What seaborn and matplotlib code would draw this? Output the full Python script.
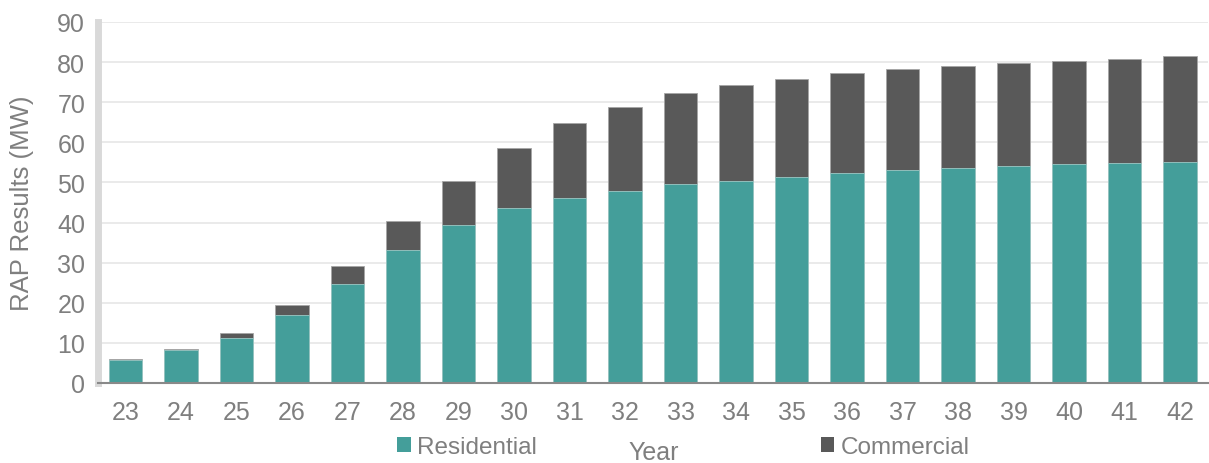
import matplotlib
matplotlib.use("Agg")
import matplotlib.pyplot as plt
import seaborn as sns
import pandas as pd
from matplotlib.patches import Patch

years = ["23", "24", "25", "26", "27", "28", "29", "30", "31", "32",
         "33", "34", "35", "36", "37", "38", "39", "40", "41", "42"]
residential = [5.8, 8.2, 11.2, 16.9, 24.8, 33.1, 39.4, 43.6, 46.2, 47.8,
               49.6, 50.4, 51.4, 52.3, 53.2, 53.6, 54.1, 54.5, 54.8, 55.1]
commercial = [0.1, 0.4, 1.3, 2.5, 4.4, 7.2, 11.0, 14.9, 18.5, 21.1,
              22.6, 23.8, 24.4, 24.9, 25.2, 25.5, 25.7, 25.9, 26.0, 26.3]
yticks = [0, 10, 20, 30, 40, 50, 60, 70, 80, 90]

TEAL = "#449e9a"
GRAY = "#595959"
TXT = "#7f7f7f"

df = pd.DataFrame({"Year": years, "Residential": residential, "Commercial": commercial})
df["Total"] = df["Residential"] + df["Commercial"]

sns.set_theme(style="white")
plt.rcParams["font.family"] = ["Liberation Sans", "DejaVu Sans"]

fig = plt.figure(figsize=(12.09, 4.64), dpi=100)
ax = fig.add_axes([97.75 / 1209, 80 / 464, 1110 / 1209, 361 / 464])

sns.barplot(data=df, x="Year", y="Total", color=GRAY, width=0.6, saturation=1,
            edgecolor="#a6a6a6", linewidth=0.6, ax=ax, zorder=3)
sns.barplot(data=df, x="Year", y="Residential", color=TEAL, width=0.6, saturation=1,
            edgecolor="#9cc9c6", linewidth=0.6, ax=ax, zorder=4)

ax.set_xlim(-0.5, len(years) - 0.5)
ax.set_ylim(0, 90)
ax.set_yticks(yticks)
ax.yaxis.grid(True, color="#e8e8e8", lw=1.3, zorder=0)
ax.xaxis.grid(False)
ax.set_axisbelow(True)

ax.tick_params(axis="y", length=0, pad=9, labelsize=18, labelcolor=TXT)
ax.tick_params(axis="x", which="major", length=0, pad=12, labelsize=18, labelcolor=TXT)
ax.set_xticks([i - 0.5 for i in range(len(years) + 1)], minor=True)
ax.tick_params(axis="x", which="minor", length=6, width=1.5, color="#898989", direction="out")

for s in ["top", "right"]:
    ax.spines[s].set_visible(False)
ax.spines["left"].set_color("#d9d9d9")
ax.spines["left"].set_linewidth(5)
ax.spines["bottom"].set_color("#898989")
ax.spines["bottom"].set_linewidth(1.5)
ax.spines["bottom"].set_zorder(6)

ax.set_xlabel("Year", fontsize=18, color=TXT)
ax.xaxis.set_label_coords(0.501, -0.158)
ax.set_ylabel("RAP Results (MW)", fontsize=18.5, color=TXT)
ax.yaxis.set_label_coords(-0.057, 0.5)

handles = [Patch(facecolor=TEAL, edgecolor="none", label="Residential"),
           Patch(facecolor=GRAY, edgecolor="none", label="Commercial")]
fig.legend(handles=handles, loc="center", bbox_to_anchor=(683.5 / 1209, 1 - 448 / 464),
           ncol=2, frameon=False, fontsize=17.5, labelcolor=TXT,
           handlelength=0.55, handleheight=0.55, handletextpad=0.25,
           columnspacing=11.7, borderpad=0, borderaxespad=0)

fig.savefig("out.png", dpi=100)
